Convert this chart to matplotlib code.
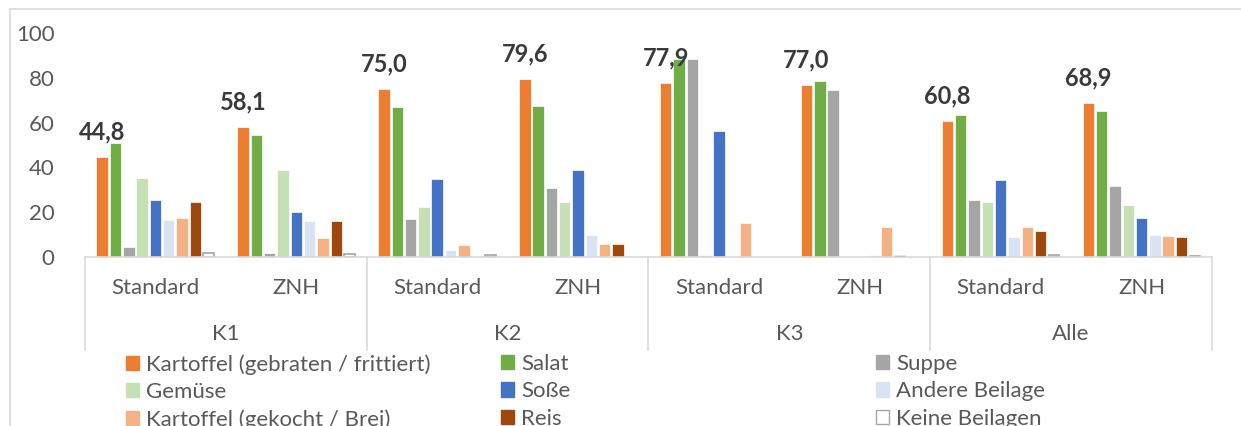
import numpy as np
import matplotlib
matplotlib.use('Agg')
import matplotlib.pyplot as plt
from matplotlib.patches import Patch, Rectangle

plt.rcParams['font.family'] = ['Lato', 'DejaVu Sans']

# categories (two-level axis)
groups = ['K1', 'K2', 'K3', 'Alle']
subgroups = ['Standard', 'ZNH']

series_names = ['Kartoffel (gebraten / frittiert)', 'Salat', 'Suppe', 'Gemüse', 'Soße',
                'Andere Beilage', 'Kartoffel (gekocht / Brei)', 'Reis', 'Keine Beilagen']

# values per category: K1 Std, K1 ZNH, K2 Std, K2 ZNH, K3 Std, K3 ZNH, Alle Std, Alle ZNH
kartoffel_gebraten = [44.8, 58.1, 75.0, 79.6, 77.9, 77.0, 60.8, 68.9]
salat = [51.0, 54.6, 67.1, 67.5, 88.5, 78.7, 63.5, 65.2]
suppe = [4.3, 1.7, 16.8, 30.7, 88.6, 74.6, 25.3, 31.6]
gemuese = [35.4, 39.0, 22.1, 24.4, 0.9, 0.0, 24.4, 23.1]
sosse = [25.5, 19.9, 34.8, 38.9, 56.1, 0.0, 34.5, 17.4]
andere_beilage = [16.3, 16.0, 3.3, 9.9, 0.0, 1.0, 9.0, 9.7]
kartoffel_gekocht = [17.5, 8.5, 5.2, 5.8, 15.3, 13.2, 13.2, 9.3]
reis = [24.5, 16.0, 0.0, 5.8, 0.0, 1.0, 11.8, 9.0]
keine_beilagen = [1.7, 1.2, 1.0, 0.0, 0.0, 0.0, 1.1, 0.5]

all_series = [kartoffel_gebraten, salat, suppe, gemuese, sosse,
              andere_beilage, kartoffel_gekocht, reis, keine_beilagen]
colors = ['#ED7D31', '#70AD47', '#A5A5A5', '#C5E0B4', '#4472C4',
          '#DAE3F3', '#F4B183', '#9E480E', 'white']

txt_col = '#595959'
line_col = '#D9D9D9'
fs = 16

fig = plt.figure(figsize=(12.41, 4.26), dpi=100)
ax = fig.add_axes([85 / 1241, 1 - 257 / 426, 1127 / 1241, 224 / 426])

x = np.arange(len(groups) * len(subgroups))
pitch = 0.0945
for i, (vals, col) in enumerate(zip(all_series, colors)):
    pos = x + (i - 4) * pitch
    if col == 'white':
        edges = ['#A5A5A5' if v > 0 else 'none' for v in vals]
        ax.bar(pos, vals, width=pitch * 0.78, color='white', edgecolor=edges, linewidth=1.2)
    else:
        edges = ['white' if v > 0 else 'none' for v in vals]
        ax.bar(pos, vals, width=pitch * 0.86, color=col, edgecolor=edges, linewidth=0.5)

# data labels on first series
for xi, v in zip(x, kartoffel_gebraten):
    ax.annotate(f'{v:.1f}'.replace('.', ','), (xi - 4 * pitch, v), xytext=(0, 18),
                textcoords='offset points', ha='center', va='center',
                fontsize=17, fontweight='bold', color='#3A3A3A')

ax.set_xlim(-0.5, 7.5)
ax.set_ylim(0, 100)
ax.set_yticks([0, 20, 40, 60, 80, 100])
ax.tick_params(axis='y', length=0, pad=22, labelsize=fs, labelcolor=txt_col)
ax.set_xticks([])
for s in ['top', 'right', 'left']:
    ax.spines[s].set_visible(False)
ax.spines['bottom'].set_color(line_col)
ax.spines['bottom'].set_linewidth(1.2)

# two-level category axis
trans = ax.get_xaxis_transform()
for sep in [-0.5, 1.5, 3.5, 5.5, 7.5]:
    ax.plot([sep, sep], [0, -0.415], transform=trans, color=line_col, lw=1.2, clip_on=False)
for xi in x:
    ax.text(xi, -0.14, subgroups[xi % 2], transform=trans, ha='center', va='center',
            fontsize=fs, color=txt_col)
for gi, g in enumerate(groups):
    ax.text(gi * 2 + 0.5, -0.342, g, transform=trans, ha='center', va='center',
            fontsize=fs, color=txt_col)

# legend: three fixed columns, entries filled row-wise
col_x = [126, 501, 876]
for c in range(3):
    idx = [c, c + 3, c + 6]
    hs = [Patch(facecolor=colors[k], edgecolor='#A5A5A5' if colors[k] == 'white' else colors[k],
                linewidth=1.0) for k in idx]
    fig.legend(hs, [series_names[k] for k in idx], loc='upper left',
               bbox_to_anchor=(col_x[c] / 1241, 1 - 354 / 426), frameon=False,
               borderpad=0, borderaxespad=0, handlelength=0.6, handleheight=0.6,
               handletextpad=0.3, labelspacing=0.33, fontsize=fs, labelcolor=txt_col)

# chart border (partially cut off)
fig.add_artist(Rectangle((10 / 1241, -0.5), 2, 1.5 - 9 / 426, transform=fig.transFigure,
                         fill=False, edgecolor=line_col, lw=1.2))

fig.savefig('out.png', dpi=100)
